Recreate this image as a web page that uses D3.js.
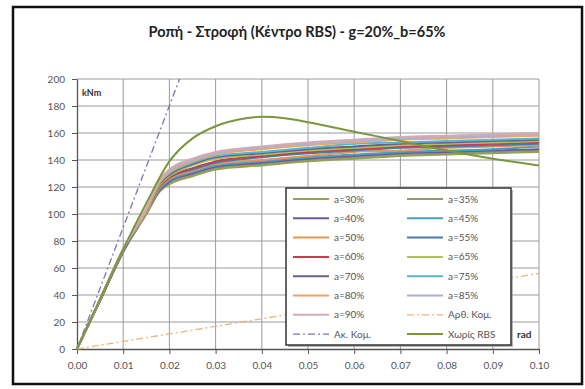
<!DOCTYPE html>
<html>
<head>
<meta charset="utf-8">
<script src="https://cdn.jsdelivr.net/npm/d3@7"></script>
<style>
  body { margin: 0; background: #fff; }
  svg { display: block; font-family: Lato, "Open Sans", sans-serif; }
</style>
</head>
<body>
<svg id="chart" width="585" height="389"></svg>
<script>
// rotation (rad) sample points
const rbsX = [0, 0.005, 0.01, 0.015, 0.018, 0.02, 0.025, 0.03, 0.04, 0.05, 0.06, 0.07, 0.08, 0.09, 0.10];
const a30 = [0, 36, 72, 100, 117, 122, 128, 133, 136, 139, 141, 143, 144, 145, 146];
const a35 = [0, 36, 72, 100, 118, 123, 129, 134, 137, 140, 142, 144, 145, 146, 147];
const a40 = [0, 36, 72, 101, 118, 124, 130, 135, 138, 141, 143, 145, 146, 147, 148];
const a45 = [0, 36, 73, 101, 119, 125, 131, 136, 139, 142, 144, 146, 147, 148, 150];
const a50 = [0, 36, 73, 101, 120, 126, 132, 137, 140, 143, 146, 147, 149, 150, 151];
const a55 = [0, 36, 73, 102, 121, 127, 133, 138, 142, 145, 147, 149, 150, 151, 152];
const a60 = [0, 36, 73, 102, 121, 127, 134, 139, 143, 146, 148, 150, 151, 152, 153];
const a65 = [0, 37, 73, 102, 122, 128, 136, 141, 144, 147, 149, 151, 152, 153, 154];
const a70 = [0, 37, 73, 103, 123, 129, 137, 142, 145, 148, 150, 152, 153, 154, 155];
const a75 = [0, 37, 74, 103, 124, 130, 138, 143, 146, 149, 152, 153, 154, 155, 156];
const a80 = [0, 37, 74, 103, 124, 131, 139, 144, 148, 151, 153, 155, 156, 157, 158];
const a85 = [0, 37, 74, 104, 125, 132, 140, 145, 149, 152, 154, 156, 157, 158, 159];
const a90 = [0, 37, 74, 104, 126, 133, 141, 146, 150, 153, 155, 157, 158, 159, 160];

const noRbsX = [0, 0.005, 0.01, 0.015, 0.02, 0.025, 0.03, 0.035, 0.04, 0.045, 0.05, 0.06, 0.07, 0.08, 0.09, 0.10];
const noRbsY = [0, 37, 74, 108, 139, 156, 165, 170, 172, 171, 168, 161, 154, 147, 141, 136];

const arthX = [0, 0.10];
const arthY = [0, 56];
const akX = [0, 0.0222];
const akY = [0, 200];

const xTicks = [0, 0.01, 0.02, 0.03, 0.04, 0.05, 0.06, 0.07, 0.08, 0.09, 0.10];
const yTicks = [0, 20, 40, 60, 80, 100, 120, 140, 160, 180, 200];

const series = [
  { name: "a=30%", x: rbsX, y: a30, color: "#8fa64c" },
  { name: "a=35%", x: rbsX, y: a35, color: "#939b6c" },
  { name: "a=40%", x: rbsX, y: a40, color: "#6c5a9c" },
  { name: "a=45%", x: rbsX, y: a45, color: "#4a9fbe" },
  { name: "a=50%", x: rbsX, y: a50, color: "#e39752" },
  { name: "a=55%", x: rbsX, y: a55, color: "#4d78ad" },
  { name: "a=60%", x: rbsX, y: a60, color: "#c0404c" },
  { name: "a=65%", x: rbsX, y: a65, color: "#aac35c" },
  { name: "a=70%", x: rbsX, y: a70, color: "#676287" },
  { name: "a=75%", x: rbsX, y: a75, color: "#5ab5d4" },
  { name: "a=80%", x: rbsX, y: a80, color: "#f2a55e" },
  { name: "a=85%", x: rbsX, y: a85, color: "#aab2d2" },
  { name: "a=90%", x: rbsX, y: a90, color: "#d6a9b2" },
  { name: "Αρθ. Κομ.", x: arthX, y: arthY, color: "#efb37a", dash: "7,3,2,3", width: 1.3 },
  { name: "Ακ. Κομ.", x: akX, y: akY, color: "#7f72b4", dash: "7,3,2,3", width: 1.3 },
  { name: "Χωρίς RBS", x: noRbsX, y: noRbsY, color: "#7a973c" }
];

const svg = d3.select("#chart");

// outer frame
svg.append("rect")
  .attr("x", 13).attr("y", 7)
  .attr("width", 569).attr("height", 377)
  .attr("fill", "#fff")
  .attr("stroke", "#111")
  .attr("stroke-width", 2.5);

svg.append("text")
  .attr("x", 297).attr("y", 37)
  .attr("text-anchor", "middle")
  .attr("font-size", "14.5px")
  .attr("font-weight", "bold")
  .attr("fill", "#222")
  .text("Ροπή - Στροφή (Κέντρο RBS) - g=20%_b=65%");

const x = d3.scaleLinear().domain([0, 0.1]).range([77, 539]);
const y = d3.scaleLinear().domain([0, 200]).range([349, 79]);

// grid
svg.append("g")
  .selectAll("line.v")
  .data(xTicks.slice(1))
  .join("line")
  .attr("x1", d => x(d)).attr("x2", d => x(d))
  .attr("y1", y(0)).attr("y2", y(200))
  .attr("stroke", "#9a9a9a").attr("stroke-width", 1);
svg.append("g")
  .selectAll("line.h")
  .data(yTicks.slice(1))
  .join("line")
  .attr("x1", x(0)).attr("x2", x(0.1))
  .attr("y1", d => y(d)).attr("y2", d => y(d))
  .attr("stroke", "#9a9a9a").attr("stroke-width", 1);

// axes
const xAxis = svg.append("g")
  .attr("transform", `translate(0,${y(0)})`)
  .call(d3.axisBottom(x).tickValues(xTicks).tickFormat(d3.format(".2f")).tickSize(5).tickSizeOuter(0));
const yAxis = svg.append("g")
  .attr("transform", `translate(${x(0)},0)`)
  .call(d3.axisLeft(y).tickValues(yTicks).tickSize(5).tickSizeOuter(0));
[xAxis, yAxis].forEach(g => {
  g.select(".domain").attr("stroke", "#555").attr("stroke-width", 1.3);
  g.selectAll(".tick line").attr("stroke", "#555");
  g.selectAll(".tick text").attr("fill", "#555").attr("font-size", "10px")
    .attr("font-family", "Lato, 'Open Sans', sans-serif");
});
xAxis.selectAll(".tick text").attr("dy", "1.2em");
yAxis.selectAll(".tick text").attr("dx", "-0.4em");

// lines
const line = d3.line().curve(d3.curveMonotoneX);
svg.append("g")
  .selectAll("path")
  .data(series)
  .join("path")
  .attr("d", s => line(s.x.map((v, i) => [x(v), y(s.y[i])])))
  .attr("fill", "none")
  .attr("stroke", s => s.color)
  .attr("stroke-width", s => s.width || 2)
  .attr("stroke-dasharray", s => s.dash || null);

// unit labels
svg.append("text").attr("x", 82).attr("y", 96)
  .attr("font-size", "9px").attr("font-weight", "bold").attr("fill", "#333").text("kNm");
svg.append("text").attr("x", 517).attr("y", 338)
  .attr("font-size", "10px").attr("font-weight", "bold").attr("fill", "#333").text("rad");

// legend
const lg = svg.append("g").attr("transform", "translate(286,188)");
lg.append("rect")
  .attr("x", 2).attr("y", 2).attr("width", 225).attr("height", 157)
  .attr("fill", "#888").attr("opacity", 0.6);
lg.append("rect")
  .attr("width", 225).attr("height", 157)
  .attr("fill", "#fff").attr("stroke", "#333").attr("stroke-width", 1.5);
const item = lg.selectAll("g.item")
  .data(series)
  .join("g")
  .attr("transform", (d, i) => `translate(${i % 2 ? 121 : 7},${11 + Math.floor(i / 2) * 19.3})`);
item.append("line")
  .attr("x1", 0).attr("x2", 36)
  .attr("stroke", d => d.color)
  .attr("stroke-width", d => d.width || 2)
  .attr("stroke-dasharray", d => d.dash || null);
item.append("text")
  .attr("x", 41).attr("dy", "0.35em")
  .attr("font-size", "10px").attr("fill", "#555")
  .text(d => d.name);
</script>
</body>
</html>
